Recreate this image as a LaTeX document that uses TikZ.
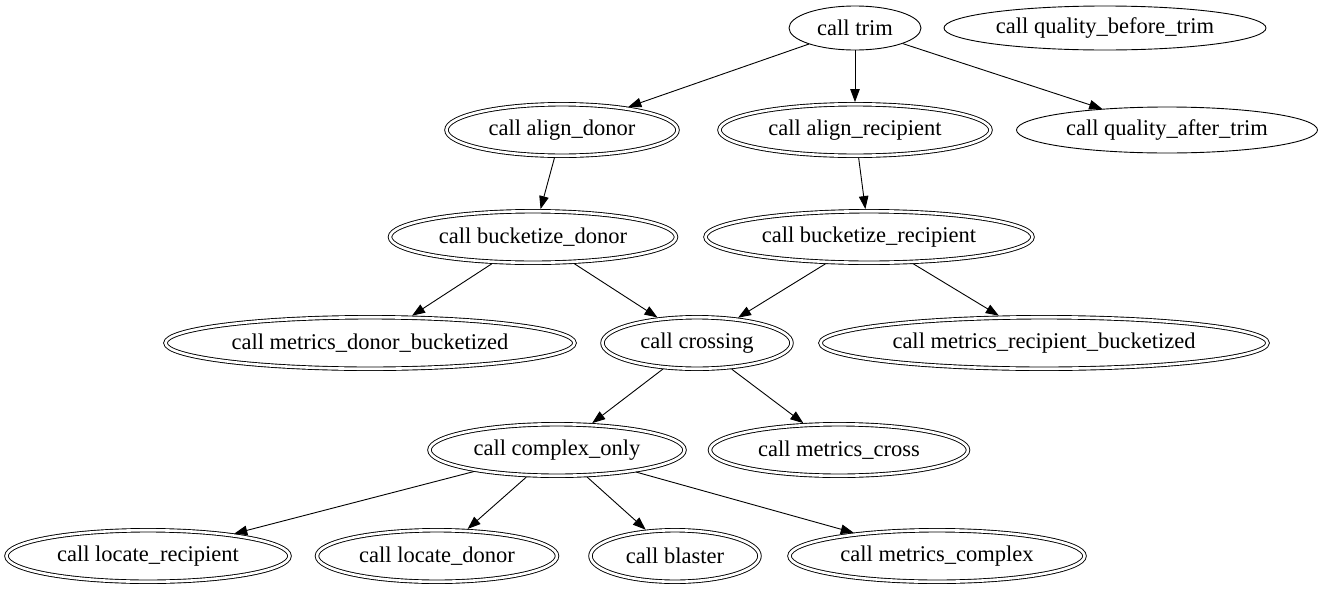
\documentclass[tikz,border=0pt]{standalone}
\usepackage{fontspec}
\setmainfont{Liberation Serif}
\usetikzlibrary{shapes.geometric,arrows.meta}
\tikzset{
  one/.style={ellipse,draw,line width=0.9pt,inner sep=0pt,minimum height=44pt,font=\fontsize{22.5}{26}\selectfont},
  two/.style={ellipse,draw,line width=0.9pt,double,double distance=2.6pt,inner sep=0pt,outer sep=2.2pt,minimum height=51.5pt,font=\fontsize{22.5}{26}\selectfont},
  edge/.style={line width=0.9pt,-{Triangle[length=13pt,width=9.5pt]}}
}
\begin{document}
\begin{tikzpicture}[x=1pt,y=-1pt]
\useasboundingbox (0,0) rectangle (1323,592);
\node[one,minimum width=132pt] (trim) at (855,28) {call trim};
\node[one,minimum width=322pt] (qbt) at (1105,28) {call quality\_before\_trim};
\node[two,minimum width=231pt] (ad) at (562,130) {call align\_donor};
\node[two,minimum width=271pt] (ar) at (855,130) {call align\_recipient};
\node[one,minimum width=301pt,minimum height=46pt] (qat) at (1167,130) {call quality\_after\_trim};
\node[two,minimum width=286pt] (bd) at (533,237) {call bucketize\_donor};
\node[two,minimum width=327pt] (br) at (869,237) {call bucketize\_recipient};
\node[two,minimum width=409pt] (mdb) at (370,343) {call metrics\_donor\_bucketized};
\node[two,minimum width=189pt] (cr) at (697,343) {call crossing};
\node[two,minimum width=447pt] (mrb) at (1044,343) {call metrics\_recipient\_bucketized};
\node[two,minimum width=255pt] (co) at (557,450) {call complex\_only};
\node[two,minimum width=258pt] (mc) at (839,450) {call metrics\_cross};
\node[two,minimum width=283pt] (lr) at (148,556) {call locate\_recipient};
\node[two,minimum width=240pt] (ld) at (437,556) {call locate\_donor};
\node[two,minimum width=169pt] (bl) at (675,556) {call blaster};
\node[two,minimum width=295pt] (mx) at (937,556) {call metrics\_complex};
\draw[edge] (trim) -- (ad);
\draw[edge] (trim) -- (ar);
\draw[edge] (trim) -- (qat);
\draw[edge] (ad) -- (bd);
\draw[edge] (ar) -- (br);
\draw[edge] (bd) -- (mdb);
\draw[edge] (bd) -- (cr);
\draw[edge] (br) -- (cr);
\draw[edge] (br) -- (mrb);
\draw[edge] (cr) -- (co);
\draw[edge] (cr) -- (mc);
\draw[edge] (co) -- (lr);
\draw[edge] (co) -- (ld);
\draw[edge] (co) -- (bl);
\draw[edge] (co) -- (mx);
\end{tikzpicture}
\end{document}
